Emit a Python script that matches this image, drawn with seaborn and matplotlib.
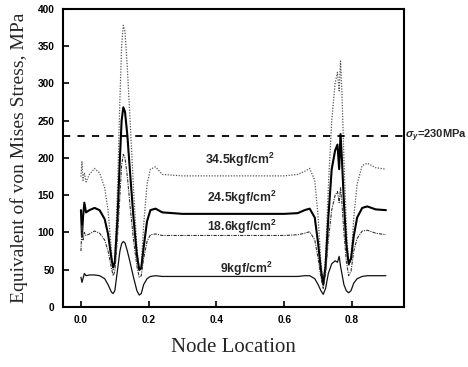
import numpy as np
import pandas as pd
import matplotlib
matplotlib.use("Agg")
import matplotlib.pyplot as plt
import seaborn as sns

# ---- data ----
node = [0.000, 0.003, 0.006, 0.010, 0.015, 0.025, 0.040, 0.055, 0.070, 0.080,
        0.090, 0.095, 0.100, 0.108, 0.115, 0.120, 0.125, 0.130, 0.137, 0.145,
        0.155, 0.165, 0.172, 0.178, 0.185, 0.195, 0.205, 0.220, 0.240, 0.300,
        0.400, 0.500, 0.600, 0.640, 0.660, 0.675, 0.690, 0.700, 0.708, 0.715,
        0.722, 0.730, 0.740, 0.750, 0.757, 0.762, 0.766, 0.770, 0.776, 0.783,
        0.790, 0.797, 0.805, 0.815, 0.830, 0.845, 0.870, 0.900]

s_345 = [175, 195, 170, 180, 168, 178, 186, 180, 160, 130,
         75, 50, 62, 160, 280, 350, 378, 370, 320, 250,
         160, 80, 48, 55, 110, 165, 185, 188, 178, 176,
         176, 176, 176, 178, 182, 186, 170, 120, 60, 30,
         70, 160, 250, 300, 315, 290, 330, 290, 200, 110,
         55, 62, 120, 165, 190, 193, 187, 185]

s_245 = [130, 95, 120, 140, 127, 130, 133, 130, 118, 98,
         65, 53, 60, 120, 200, 250, 268, 262, 230, 180,
         120, 70, 50, 52, 80, 115, 130, 132, 127, 125,
         125, 125, 125, 126, 130, 132, 120, 85, 50, 30,
         55, 120, 185, 210, 218, 185, 232, 200, 140, 85,
         58, 65, 95, 120, 133, 135, 131, 130]

s_186 = [75, 110, 90, 100, 96, 98, 102, 99, 90, 75,
         52, 42, 48, 95, 150, 190, 205, 200, 175, 135,
         90, 55, 40, 42, 65, 88, 97, 98, 96, 96,
         96, 96, 96, 97, 99, 101, 90, 65, 40, 25,
         45, 90, 130, 150, 155, 140, 160, 140, 100, 62,
         42, 48, 75, 92, 102, 103, 99, 97]

s_9 = [40, 33, 38, 45, 42, 43, 43, 42, 38, 30,
       20, 18, 22, 50, 75, 85, 88, 86, 75, 60,
       40, 22, 16, 18, 30, 38, 41, 42, 41, 41,
       41, 41, 41, 41, 42, 42, 38, 30, 22, 17,
       25, 45, 58, 62, 60, 68, 55, 45, 30, 22,
       19, 22, 32, 38, 41, 42, 42, 42]

labels = ["34.5kgf/cm$^{2}$", "24.5kgf/cm$^{2}$", "18.6kgf/cm$^{2}$", "9kgf/cm$^{2}$"]
label_pos_x = [0.366, 0.372, 0.372, 0.410]
label_pos_y = [197, 146, 107, 51]
yield_stress = 230
xticks = [0.0, 0.2, 0.4, 0.6, 0.8]
yticks = [0, 50, 100, 150, 200, 250, 300, 350, 400]

sns.set_style("ticks")
plt.rcParams['font.family'] = ['Liberation Sans', 'DejaVu Sans']
plt.rcParams['mathtext.fontset'] = 'custom'
plt.rcParams['mathtext.rm'] = 'Liberation Sans:bold'
plt.rcParams['mathtext.it'] = 'Liberation Sans:italic:bold'
plt.rcParams['mathtext.bf'] = 'Liberation Sans:bold'

fig = plt.figure(figsize=(4.68, 3.67), dpi=100)
ax = fig.add_axes([0.1346, 0.1635, 0.7284, 0.812])

series = [s_345, s_245, s_186, s_9]
styles = [
    dict(color="#555555", lw=0.9, dashes=(1, 1.2)),
    dict(color="black", lw=1.5, dashes=()),
    dict(color="#333333", lw=0.8, dashes=(3, 1, 1, 1)),
    dict(color="#111111", lw=0.9, dashes=()),
]
for ys, st in zip(series, styles):
    df = pd.DataFrame({"x": node, "y": ys})
    sns.lineplot(data=df, x="x", y="y", ax=ax, estimator=None,
                 color=st["color"], lw=st["lw"], sort=False)
    l = ax.get_lines()[-1]
    if st["dashes"]:
        l.set_dashes(st["dashes"])

ax.axhline(yield_stress, color="black", lw=1.3, dashes=(4, 4))

for lab, lx, ly in zip(labels, label_pos_x, label_pos_y):
    ax.text(lx, ly, lab, fontsize=8.8, fontweight="bold", ha="left", va="center",
            family="Liberation Sans")

ax.text(0.955, yield_stress, r"$\sigma_y$=230MPa", fontsize=8, fontweight="bold",
        ha="left", va="center", clip_on=False, family="Liberation Sans")

ax.set_xlim(-0.053, 0.953)
ax.set_ylim(0, 400)
ax.set_xticks(xticks)
ax.set_yticks(yticks)
ax.set_xticklabels([f"{v:.1f}" for v in xticks], fontsize=7.3, fontweight="bold")
ax.set_yticklabels([str(v) for v in yticks], fontsize=7.3, fontweight="bold")
ax.tick_params(direction="in", length=4, width=1.2, pad=6, colors="black")
for sp in ax.spines.values():
    sp.set_visible(True)
    sp.set_linewidth(1.5)
    sp.set_color("black")

ax.set_xlabel("Node Location", fontsize=15, family="Liberation Serif", labelpad=9)
ax.set_ylabel("Equivalent of von Mises Stress, MPa", fontsize=14,
              family="Liberation Serif", labelpad=7)

fig.savefig("out.png", dpi=100, facecolor="white")
